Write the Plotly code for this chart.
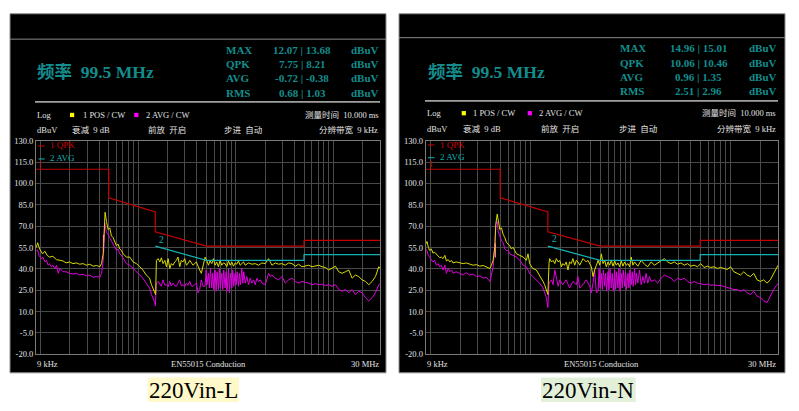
import math
import plotly.graph_objects as go

W, H = 799, 411

# ---------------- data ----------------
panel_titles = ["220Vin-L", "220Vin-N"]
stat_names = ["MAX", "QPK", "AVG", "RMS"]
stats_L = ["12.07 | 13.68", "7.75 | 8.21", "-0.72 | -0.38", "0.68 | 1.03"]
stats_N = ["14.96 | 15.01", "10.06 | 10.46", "0.96 | 1.35", "2.51 | 2.96"]
freq_text = "频率\u00a0\u00a099.5 MHz"
y_ticks = [-20, -5, 10, 25, 40, 55, 70, 85, 100, 115, 130]
x_labels = ["9 kHz", "EN55015 Conduction", "30 MHz"]
info_row1 = ["Log", "1 POS / CW", "2 AVG / CW", "测量时间\u00a0\u00a010.000 ms"]
info_row2 = ["dBuV", "衰减\u00a0\u00a09 dB", "前放\u00a0\u00a0开启", "步进\u00a0\u00a0自动", "分辨带宽\u00a0\u00a09 kHz"]
legend_names = ["1 QPK", "2 AVG"]

# limit lines (kHz, dBuV)
qpk_f = [9, 50, 50, 150, 150, 500, 5000, 5000, 30000]
qpk_v = [110, 110, 90, 80, 66, 56, 56, 60, 60]
avg_f = [150, 500, 5000, 5000, 30000]
avg_v = [56, 46, 46, 50, 50]

# 220Vin-L, peak (yellow)
L_pk_f = [9.07, 9.36, 9.81, 10.5, 11.1, 11.7, 12.4, 13.4, 14.6, 15.8,
          17.0, 18.3, 19.8, 21.5, 23.3, 25.2, 27.3, 29.6, 32.0, 34.6,
          37.5, 40.6, 42.2, 43.9, 44.9, 45.9, 47.4, 49.3, 51.2, 53.3,
          55.4, 57.6, 60.0, 62.4, 64.9, 67.5, 70.2, 75.9, 82.1, 88.9,
          96.1, 104, 112, 121, 131, 137, 142, 148, 151, 154,
          160, 167, 173, 180, 188, 195, 203, 211, 219, 228,
          237, 247, 256, 267, 277, 288, 300, 312, 324, 338,
          365, 395, 411, 427, 444, 462,
          485, 504, 525, 545, 568, 590, 614, 638, 664, 691,
          719, 747, 778, 809, 842, 876, 911, 947, 985, 1025,
          1066, 1109, 1154, 1200, 1248, 1351, 1462, 1582, 1712, 1853,
          2004, 2169, 2256, 2347, 2539, 2747, 2972, 3216, 3479, 3764,
          4072, 4406, 4767, 5157, 5580, 6037, 6531, 7066, 7645, 8271,
          8949, 9682, 10475, 11333, 12262, 13266, 14353, 15529, 16801, 18178,
          19667, 21279, 23022, 24908, 26949, 29157, 30000]
L_pk_v = [55.2, 58.4, 54.0, 50.6, 52.4, 49.5, 48.3, 48.8, 46.5, 46.0,
          45.6, 44.2, 44.9, 43.7, 44.2, 43.3, 43.7, 42.6, 43.3, 41.9,
          42.4, 41.5, 43.7, 50.6, 71.2, 79.8, 73.4, 67.7, 68.9, 63.2,
          62.0, 58.6, 56.3, 57.4, 54.0, 52.9, 50.6, 48.3, 48.3, 44.9,
          43.7, 41.5, 39.2, 35.7, 33.5, 28.9, 26.6, 23.2, 22.0, 46.0,
          47.2, 44.9, 47.8, 43.7, 46.0, 41.5, 47.2, 40.3, 43.7, 42.6,
          44.9, 46.0, 48.3, 41.5, 46.0, 44.9, 47.2, 42.6, 43.7, 46.0,
          42.6, 44.9, 41.5, 39.2, 36.9, 41.5,
          48.3, 46.0, 42.6, 45.6, 43.7, 47.2, 42.6, 44.9, 41.5, 46.0,
          42.6, 44.2, 43.7, 41.5, 45.6, 42.6, 44.9, 41.9, 44.2, 43.3,
          45.6, 42.6, 43.7, 44.9, 42.6, 44.2, 43.3, 43.7, 42.6, 44.2,
          43.7, 47.2, 44.9, 42.6, 44.2, 43.3, 43.7, 42.6, 44.2, 43.7,
          41.9, 43.3, 41.5, 41.9, 42.6, 41.5, 41.9, 42.6, 41.5, 41.0,
          39.2, 40.3, 41.9, 38.0, 36.9, 38.0, 39.2, 33.5, 35.7, 34.6,
          32.3, 31.2, 28.9, 31.2, 34.6, 41.5, 40.5]

# 220Vin-L, average (magenta)
L_av_f = [9.07, 9.36, 9.66, 10.2, 10.6, 11.1, 11.5, 12.0, 12.4, 12.9,
          13.4, 14.0, 14.6, 15.2, 15.8, 16.4, 17.0, 18.3, 19.8, 21.5,
          23.3, 25.2, 27.3, 29.6, 32.0, 34.6, 37.5, 40.6, 42.2, 43.9,
          44.9, 45.6, 47.4, 49.3, 51.2, 53.3, 55.4, 57.6, 60.0, 62.4,
          64.9, 67.5, 70.2, 75.9, 82.1, 88.9, 96.1, 104, 112, 121,
          131, 137, 142, 148, 150, 154, 160, 167, 173, 180,
          188, 195, 203, 211, 219, 228, 237, 247, 256, 267,
          277, 288, 300, 312, 324, 338, 351, 365, 380, 395,
          411, 427, 444, 462,
          485, 497, 508, 525, 537, 550, 568, 581, 595, 614,
          629, 644, 664, 680, 696, 719, 736, 753, 778, 796,
          815, 842, 862, 882, 911, 932, 954, 985, 1009, 1033,
          1066, 1091, 1117, 1154, 1181, 1209, 1248, 1298, 1351, 1405,
          1462, 1521, 1582, 1646, 1712, 1781, 1853, 2004, 2169, 2256,
          2347, 2539, 2747, 2972, 3216, 3479, 3764, 4072, 4406, 4767,
          5157, 5580, 6037, 6531, 7066, 7645, 8271, 8949, 9682, 10475,
          11333, 12262, 13266, 14353, 15529, 16801, 18178, 19667, 21279, 23022,
          24908, 26949, 29157, 30000]
L_av_v = [52.9, 53.3, 49.5, 47.2, 48.3, 44.9, 46.0, 42.6, 43.7, 41.5,
          42.6, 40.3, 42.6, 36.9, 40.3, 39.2, 38.0, 38.0, 36.9, 36.4,
          36.9, 35.7, 36.2, 35.1, 35.7, 34.1, 34.6, 34.1, 36.9, 46.0,
          71.2, 72.3, 65.4, 64.3, 62.0, 59.7, 57.4, 55.2, 52.9, 54.0,
          50.6, 49.5, 47.2, 43.7, 42.6, 40.3, 38.0, 35.7, 33.5, 30.0,
          26.6, 22.0, 19.8, 16.3, 14.0, 30.0, 31.2, 28.9, 27.8, 32.3,
          28.5, 28.9, 27.5, 31.2, 28.0, 30.0, 28.2, 27.8, 30.5, 32.3,
          28.0, 28.9, 27.5, 30.0, 28.5, 31.2, 28.0, 27.8, 29.0, 30.0,
          23.2, 25.5, 32.3, 27.8,
          27.7, 39.2, 28.9, 36.9, 26.6, 40.3, 26.6, 36.9, 25.5, 39.2,
          24.3, 38.0, 25.5, 40.3, 26.6, 36.9, 25.5, 39.2, 26.6, 38.0,
          24.3, 40.3, 23.2, 36.9, 26.6, 39.2, 27.7, 36.9, 28.9, 38.0,
          27.7, 36.9, 28.9, 40.3, 30.0, 38.0, 30.0, 34.6, 28.9, 33.5,
          30.0, 32.3, 28.9, 33.5, 31.2, 32.3, 30.0, 28.9, 36.9, 34.6,
          35.7, 33.5, 32.3, 34.6, 30.0, 32.3, 33.5, 31.2, 30.0, 31.2,
          30.5, 30.0, 28.9, 29.6, 28.9, 29.3, 28.2, 28.9, 27.7, 28.9,
          25.5, 24.3, 25.5, 23.2, 25.5, 22.0, 24.3, 23.2, 19.8, 17.5,
          19.8, 23.2, 28.9, 29.5]

# 220Vin-N, peak (yellow)
N_pk_f = [9.0, 9.27, 9.56, 9.86, 10.25, 10.65, 11.07, 11.5, 12.0, 12.4,
          12.9, 13.4, 14.0, 14.5, 15.1, 15.7, 16.3, 16.9, 18.2, 19.7,
          21.3, 22.9, 24.8, 26.8, 28.9, 31.3, 33.8, 36.5, 39.4, 40.9,
          42.5, 44.2, 45.2, 46.7, 47.7, 49.6, 51.5, 53.5, 55.6, 57.8,
          60.0, 62.4, 64.8, 67.3, 70.0, 72.7, 78.6, 84.9, 91.3, 94.9,
          98.6, 106, 115, 124, 134, 139, 145, 150, 154, 156,
          163, 169, 176, 182, 190, 197, 205, 211, 220, 229,
          238, 247, 257, 267, 278, 289, 300, 312, 337, 363,
          378, 393, 408, 424, 440,
          477, 495, 514, 534, 555, 576, 599, 622, 646, 671,
          698, 724, 753, 782, 813, 844, 877, 911, 947, 983,
          1022, 1062, 1103, 1190, 1285, 1386, 1496, 1615, 1743, 1881,
          2030, 2191, 2365, 2552, 2754, 2973, 3208, 3462, 3737, 4033,
          4352, 4697, 5069, 5471, 5904, 6372, 6877, 7422, 8010, 8644,
          9329, 10068, 10866, 11727, 12656, 13659, 14741, 15909, 17169, 18529,
          19997, 21581, 23291, 25136, 27128, 29277, 30000]
N_pk_v = [57.4, 59.3, 55.2, 52.9, 54.0, 51.1, 51.7, 50.6, 49.5, 47.9,
          48.3, 47.2, 49.5, 45.6, 46.5, 44.9, 46.0, 44.2, 44.9, 44.2,
          43.7, 44.2, 43.3, 42.6, 43.0, 41.9, 42.4, 41.5, 40.3, 42.6,
          46.0, 55.2, 71.2, 78.5, 73.4, 67.7, 68.9, 64.3, 62.0, 58.6,
          57.4, 56.3, 54.0, 55.2, 52.9, 50.6, 49.5, 48.3, 46.0, 50.6,
          43.7, 40.3, 39.2, 35.7, 31.2, 28.9, 25.5, 22.0, 43.7, 47.2,
          44.9, 46.0, 43.7, 47.2, 44.9, 46.0, 41.5, 43.7, 42.6, 44.9,
          39.2, 44.9, 43.7, 47.2, 42.6, 46.0, 44.9, 42.6, 47.2, 44.9,
          46.0, 43.7, 41.5, 34.6, 39.2,
          46.0, 42.6, 50.6, 43.7, 46.0, 41.5, 44.9, 42.6, 46.0, 41.9,
          45.6, 42.6, 44.2, 41.5, 45.6, 41.9, 44.9, 42.6, 43.7, 41.5,
          48.3, 42.6, 44.9, 41.9, 46.0, 43.3, 41.5, 44.9, 42.6, 44.2,
          46.0, 47.2, 44.9, 43.7, 44.9, 43.3, 44.2, 42.6, 43.7, 41.9,
          42.6, 41.5, 43.7, 41.0, 41.9, 41.0, 41.5, 40.3, 41.0, 40.3,
          39.6, 41.5, 38.0, 36.9, 35.7, 38.0, 35.7, 34.6, 36.9, 32.3,
          31.2, 32.3, 30.0, 32.3, 36.9, 41.5, 42.5]

# 220Vin-N, average (magenta)
N_av_f = [9.0, 9.27, 9.56, 9.86, 10.25, 10.65, 11.07, 11.5, 12.0, 12.4,
          12.9, 13.4, 14.0, 14.5, 15.1, 15.7, 16.3, 16.9, 18.2, 19.7,
          21.3, 22.9, 24.8, 26.8, 28.9, 31.3, 33.8, 36.5, 39.4, 40.9,
          42.5, 44.2, 45.2, 46.7, 47.7, 49.6, 51.5, 53.5, 55.6, 57.8,
          60.0, 62.4, 67.3, 72.7, 78.6, 84.9, 91.3, 98.6, 106, 115,
          124, 134, 139, 145, 150, 154, 163, 169, 176, 182,
          190, 197, 211, 229, 247, 267, 289, 300, 312, 337,
          363, 393, 408, 424, 440, 458,
          477, 488, 499, 514, 526, 538, 555, 567, 580, 599,
          613, 627, 646, 661, 676, 698, 714, 730, 753, 770,
          788, 813, 832, 850, 877, 897, 918, 947, 969, 991,
          1022, 1046, 1070, 1103, 1129, 1155, 1190, 1237, 1285, 1335,
          1386, 1440, 1496, 1554, 1615, 1743, 1881, 2030, 2191, 2365,
          2552, 2754, 2973, 3208, 3462, 3737, 4033, 4352, 4697, 5069,
          5471, 5904, 6372, 6877, 7422, 8010, 8644, 9329, 10068, 10866,
          11727, 12656, 13659, 14741, 15909, 17169, 18529, 19997, 21581, 23291,
          25136, 27128, 29277, 30000]
N_av_v = [54.0, 52.9, 49.5, 48.3, 47.2, 44.9, 46.0, 42.6, 43.7, 41.5,
          42.6, 39.2, 42.6, 36.9, 40.3, 38.0, 39.2, 36.9, 38.0, 36.9,
          35.7, 37.3, 35.7, 36.4, 34.6, 35.1, 33.5, 34.1, 31.2, 35.7,
          41.5, 57.4, 71.2, 73.4, 66.6, 63.2, 59.7, 58.6, 54.0, 52.9,
          52.9, 50.6, 49.5, 48.3, 46.0, 42.6, 41.5, 36.9, 34.6, 32.3,
          30.0, 26.6, 23.2, 19.8, 12.9, 30.0, 32.3, 28.9, 39.2, 33.5,
          27.8, 32.3, 28.9, 32.3, 26.6, 31.2, 28.9, 34.6, 26.6, 28.9,
          32.3, 27.8, 23.2, 30.0, 39.2, 23.2,
          24.3, 40.3, 26.6, 36.9, 25.5, 39.2, 27.7, 36.9, 24.3, 38.0,
          25.5, 40.3, 26.6, 36.9, 24.3, 39.2, 25.5, 38.0, 26.6, 40.3,
          24.3, 36.9, 26.6, 39.2, 27.7, 38.0, 25.5, 36.9, 26.6, 39.2,
          28.9, 38.0, 27.7, 40.3, 28.9, 36.9, 30.0, 39.2, 28.9, 34.6,
          30.0, 36.9, 30.0, 34.6, 31.2, 32.3, 30.0, 33.5, 35.7, 34.6,
          33.5, 31.2, 33.5, 32.3, 33.5, 31.2, 30.0, 31.2, 30.0, 29.6,
          28.9, 29.3, 28.4, 28.9, 28.2, 28.4, 27.7, 27.3, 26.6, 25.5,
          25.5, 24.3, 25.5, 23.2, 22.0, 24.3, 20.9, 19.8, 17.5, 16.3,
          20.9, 25.5, 28.9, 29.5]

# short overlap segment at the ~44 kHz rising edge
L_edge_f = [44.2, 44.2]
L_edge_v = [52.0, 64.0]
N_edge_f = [44.7, 44.7]
N_edge_v = [48.0, 58.0]

# ---------------- style ----------------
SERIF = "Liberation Serif, Noto Sans CJK SC, serif"
TEAL = "#138d8d"
WHITE = "#e2e2e2"
GRID = "#4a4a4a"
FRAME = "#7a7a7a"
RED = "#c40000"
LRED = "#d00000"
CYAN = "#12b2b2"
YEL = "#dada00"
MAG = "#e000e0"
EDGE = "#ff9a80"

fig = go.Figure()


def px_x(x):
    return x / W


def px_y(y):
    return 1 - y / H


def T(x, y, text, size=8.5, color=WHITE, anchor="left", bold=False):
    fig.add_annotation(x=px_x(x), y=px_y(y), xref="paper", yref="paper",
                       text=f"<b>{text}</b>" if bold else text, showarrow=False,
                       xanchor=anchor, yanchor="middle", borderpad=0,
                       font=dict(family=SERIF, size=size, color=color))


def R(x0, y0, x1, y1, fill=None, line=None, lw=1):
    fig.add_shape(type="rect", xref="paper", yref="paper",
                  x0=px_x(x0), x1=px_x(x1), y0=px_y(y1), y1=px_y(y0),
                  fillcolor=fill if fill else "rgba(0,0,0,0)",
                  line=dict(color=line if line else "rgba(0,0,0,0)", width=lw if line else 0),
                  layer="below")


def L(x0, y0, x1, y1, color, lw=1, layer="below"):
    fig.add_shape(type="line", xref="paper", yref="paper",
                  x0=px_x(x0), x1=px_x(x1), y0=px_y(y0), y1=px_y(y1),
                  line=dict(color=color, width=lw), layer=layer)


panels = [
    dict(xa="x", ya="y", box=(10, 9, 386, 377), sep1=35, sep2=(35, 99.3, 380),
         plot=(36, 380), big=(36, 69), rows=[46, 60.7, 75.3, 90], sx=225, vx=302, ux=380,
         stats=stats_L, r1y=112.7, r2y=127.7,
         r1x=[36, 81.7, 145, 379.5], sq=[70, 134.3], r2x=[36, 71, 147.3, 223.3, 379],
         leg=(38.3, 144, 157.3), n1=(37, 163), n2=(158, 240.7),
         xl=[36, 208, 379.5], title=(147.7, 381.7, 239, 407, "#fff8c8"),
         pk=(L_pk_f, L_pk_v), av=(L_av_f, L_av_v), edge=(L_edge_f, L_edge_v)),
    dict(xa="x2", ya="y2", box=(399, 9, 785, 377), sep1=33.5, sep2=(425, 98.3, 778),
         plot=(425.7, 778), big=(426.7, 68.3), rows=[44.3, 59, 73.7, 88.3], sx=619, vx=698.5,
         ux=777.5, stats=stats_N, r1y=110.9, r2y=126.7,
         r1x=[425.7, 472, 537.7, 777.3], sq=[461.7, 527.7], r2x=[425.7, 461.7, 540, 617.7, 777.3],
         leg=(428, 143, 156), n1=(427.7, 162.7), n2=(550.7, 240),
         xl=[426, 601.7, 777.3], title=(541, 381.7, 635.7, 407, "#e2f0d9"),
         pk=(N_pk_f, N_pk_v), av=(N_av_f, N_av_v), edge=(N_edge_f, N_edge_v)),
]

PLOT_TOP, PLOT_BOT = 139.2, 358

for i, p in enumerate(panels):
    # black instrument panel
    bx0, by0, bx1, by1 = p["box"]
    R(bx0, by0, bx1, by1, fill="#000000", line="#8e8e8e", lw=1)
    L(bx0, p["sep1"], bx1, p["sep1"], "#8a8a8a", 1)
    s0, sy, s1 = p["sep2"]
    L(s0, sy, s1, sy, "#a0a0a0", 1.6)

    # traces
    fig.add_trace(go.Scatter(x=p["av"][0], y=p["av"][1], mode="lines", xaxis=p["xa"], yaxis=p["ya"],
                             line=dict(color=MAG, width=1), showlegend=False, hoverinfo="skip"))
    fig.add_trace(go.Scatter(x=p["pk"][0], y=p["pk"][1], mode="lines", xaxis=p["xa"], yaxis=p["ya"],
                             line=dict(color=YEL, width=1), showlegend=False, hoverinfo="skip"))
    fig.add_trace(go.Scatter(x=p["edge"][0], y=p["edge"][1], mode="lines", xaxis=p["xa"], yaxis=p["ya"],
                             line=dict(color=EDGE, width=1.2), showlegend=False, hoverinfo="skip"))
    fig.add_trace(go.Scatter(x=qpk_f, y=qpk_v, mode="lines", xaxis=p["xa"], yaxis=p["ya"],
                             line=dict(color=RED, width=1.2), showlegend=False, hoverinfo="skip"))
    fig.add_trace(go.Scatter(x=avg_f, y=avg_v, mode="lines", xaxis=p["xa"], yaxis=p["ya"],
                             line=dict(color=CYAN, width=1.2), showlegend=False, hoverinfo="skip"))

    # big frequency readout
    T(p["big"][0], p["big"][1], freq_text, size=17.5, color=TEAL, bold=True)
    for name, val, yy in zip(stat_names, p["stats"], p["rows"]):
        T(p["sx"], yy, name, size=11, color=TEAL, bold=True)
        T(p["vx"], yy, val, size=11, color=TEAL, bold=True, anchor="center")
        T(p["ux"], yy, "dBuV", size=11, color=TEAL, bold=True, anchor="right")

    # info rows
    T(p["r1x"][0], p["r1y"], info_row1[0])
    T(p["r1x"][1], p["r1y"], info_row1[1])
    T(p["r1x"][2], p["r1y"], info_row1[2])
    T(p["r1x"][3], p["r1y"], info_row1[3], anchor="right")
    for sqx, col in zip(p["sq"], ["#ffff00", "#ff00ff"]):
        R(sqx, p["r1y"] - 2.2, sqx + 4.2, p["r1y"] + 2.2, fill=col)
    for k in range(4):
        T(p["r2x"][k], p["r2y"], info_row2[k])
    T(p["r2x"][4], p["r2y"], info_row2[4], anchor="right")

    # legend inside plot: short dash + text
    lx, ly1, ly2 = p["leg"]
    L(lx, ly1 + 0.5, lx + 6.5, ly1 + 0.5, LRED, 1, layer="above")
    L(lx, ly2 + 0.5, lx + 6.5, ly2 + 0.5, CYAN, 1, layer="above")
    T(lx + 11, ly1, legend_names[0], color=LRED, size=9)
    T(lx + 11, ly2, legend_names[1], color=CYAN, size=9)
    T(p["n1"][0], p["n1"][1], "1", color=LRED, size=8.5)
    T(p["n2"][0], p["n2"][1], "2", color=CYAN, size=9.5)

    # x labels
    T(p["xl"][0], 368.3, x_labels[0])
    T(p["xl"][1], 368.3, x_labels[1], anchor="center")
    T(p["xl"][2], 368.3, x_labels[2], anchor="right")

    # bottom caption
    tx0, ty0, tx1, ty1, bg = p["title"]
    R(tx0, ty0, tx1, ty1, fill=bg)
    T((tx0 + tx1) / 2, (ty0 + ty1) / 2 + 0.5, panel_titles[i], size=23, color="#000000", anchor="center")

    # axes
    suffix = "" if i == 0 else "2"
    x0, x1 = p["plot"]
    fig.update_layout(**{
        "xaxis" + suffix: dict(type="log", range=[math.log10(9), math.log10(30000)],
                               domain=[px_x(x0), px_x(x1)], anchor="y" + suffix,
                               showgrid=True, gridcolor=GRID, gridwidth=1, dtick="D1",
                               showticklabels=False, ticks="", zeroline=False,
                               showline=True, linecolor=FRAME, linewidth=1, mirror=True,
                               fixedrange=True),
        "yaxis" + suffix: dict(range=[-20, 130], tickvals=y_ticks,
                               ticktext=[f"{v:.1f}" for v in y_ticks],
                               domain=[px_y(PLOT_BOT), px_y(PLOT_TOP)], anchor="x" + suffix,
                               showgrid=True, gridcolor=GRID, gridwidth=1, ticks="",
                               zeroline=False, showline=True, linecolor=FRAME, linewidth=1,
                               mirror=True, fixedrange=True,
                               tickfont=dict(family=SERIF, size=8.5, color=WHITE)),
    })

fig.update_layout(width=W, height=H, margin=dict(l=0, r=0, t=0, b=0),
                  paper_bgcolor="#ffffff", plot_bgcolor="#000000", showlegend=False)

fig.write_html("out.html", config={"displayModeBar": False},
               post_script="document.body.style.margin='0';document.body.style.overflow='hidden';")
